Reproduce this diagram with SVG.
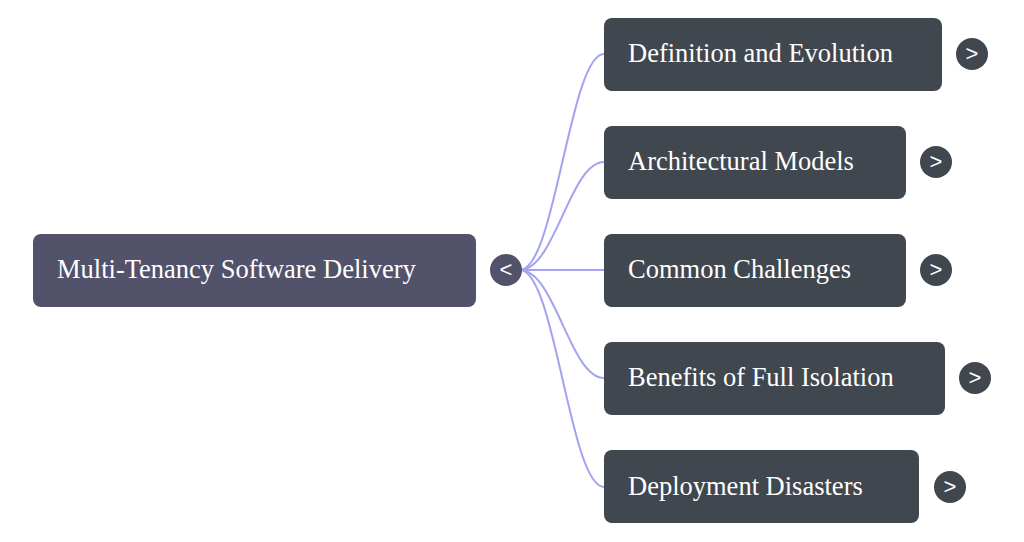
<svg xmlns="http://www.w3.org/2000/svg" width="1024" height="542" viewBox="0 0 1024 542">
<style>
.n{fill:#41474f}
.r{fill:#52526a}
.t{fill:#fff;font-family:"Liberation Serif","DejaVu Serif",serif;font-size:26.5px;dominant-baseline:central}
.c{fill:#41474f}
.ct{fill:#fff;font-family:"Liberation Sans",sans-serif;font-size:22px;text-anchor:middle;dominant-baseline:central}
.l{fill:none;stroke:#a3a3f0;stroke-width:2}
</style>
<rect width="1024" height="542" fill="#fff"/>
<g id="connectors">
<path class="l" d="M520 270 C555 270 570 54 604 54"/>
<path class="l" d="M520 270 C555 270 570 162 604 162"/>
<path class="l" d="M520 270 L604 270"/>
<path class="l" d="M520 270 C555 270 570 378 604 378"/>
<path class="l" d="M520 270 C555 270 570 487 604 487"/>
</g>
<g id="root">
<rect class="r" x="33" y="234" width="443" height="73" rx="8"/>
<text class="t" x="57" y="269">Multi-Tenancy Software Delivery</text>
<circle class="r" cx="506" cy="270" r="16"/>
<text class="ct" x="506" y="269">&lt;</text>
</g>
<g id="n1">
<rect class="n" x="604" y="18" width="338" height="73" rx="8"/>
<text class="t" x="628" y="53">Definition and Evolution</text>
<circle class="c" cx="972" cy="54" r="16"/>
<text class="ct" x="972" y="53">&gt;</text>
</g>
<g id="n2">
<rect class="n" x="604" y="126" width="302" height="73" rx="8"/>
<text class="t" x="628" y="161">Architectural Models</text>
<circle class="c" cx="936" cy="162" r="16"/>
<text class="ct" x="936" y="161">&gt;</text>
</g>
<g id="n3">
<rect class="n" x="604" y="234" width="302" height="73" rx="8"/>
<text class="t" x="628" y="269">Common Challenges</text>
<circle class="c" cx="936" cy="270" r="16"/>
<text class="ct" x="936" y="269">&gt;</text>
</g>
<g id="n4">
<rect class="n" x="604" y="342" width="341" height="73" rx="8"/>
<text class="t" x="628" y="377">Benefits of Full Isolation</text>
<circle class="c" cx="975" cy="378" r="16"/>
<text class="ct" x="975" y="377">&gt;</text>
</g>
<g id="n5">
<rect class="n" x="604" y="450" width="315" height="73" rx="8"/>
<text class="t" x="628" y="486">Deployment Disasters</text>
<circle class="c" cx="950" cy="487" r="16"/>
<text class="ct" x="950" y="486">&gt;</text>
</g>
</svg>
